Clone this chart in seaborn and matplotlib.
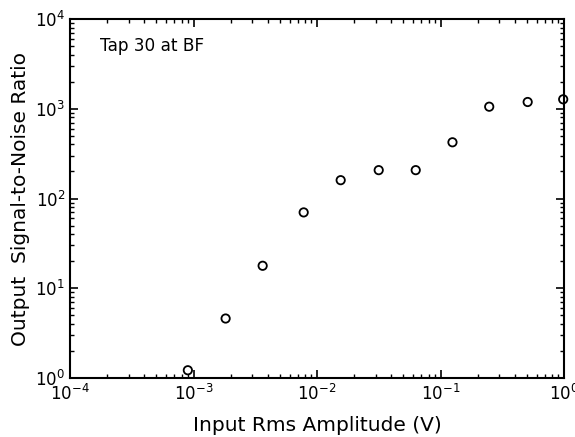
import numpy as np
import pandas as pd
import seaborn as sns
import matplotlib
matplotlib.use("Agg")
import matplotlib.pyplot as plt
from matplotlib.ticker import LogLocator, NullFormatter

# data
amplitude = [0.0009, 0.00182, 0.00363, 0.0078, 0.01555, 0.0316, 0.063, 0.125, 0.248, 0.508, 0.985]
snr = [1.22, 4.6, 17.8, 70, 160, 207, 207, 423, 1054, 1189, 1274]

df = pd.DataFrame({"amp": amplitude, "snr": snr})

sns.set_style("ticks")
plt.rcParams["font.family"] = ["DejaVu Sans"]
plt.rcParams["text.color"] = "black"
plt.rcParams["axes.labelcolor"] = "black"
plt.rcParams["xtick.color"] = "black"
plt.rcParams["ytick.color"] = "black"

fig = plt.figure(figsize=(5.75, 4.37), dpi=100)
ax = fig.add_axes([70 / 575, 1 - 378 / 437, (564 - 70) / 575, (378 - 19) / 437])

sns.scatterplot(data=df, x="amp", y="snr", ax=ax, marker="o", s=36,
                facecolor="none", edgecolor="black", linewidth=1.3,
                clip_on=False, legend=False, zorder=5)

ax.set_xscale("log")
ax.set_yscale("log")
ax.set_xlim(1e-4, 1e0)
ax.set_ylim(1e0, 1e4)

for axis in (ax.xaxis, ax.yaxis):
    axis.set_major_locator(LogLocator(base=10, numticks=100))
    axis.set_minor_locator(LogLocator(base=10, subs=np.arange(2, 10), numticks=100))
    axis.set_minor_formatter(NullFormatter())

ax.tick_params(which="both", direction="in", top=True, right=True, color="black")
ax.tick_params(which="major", length=6, width=1.2, labelsize=12, labelcolor="black")
ax.tick_params(which="minor", length=3, width=1)
ax.tick_params(axis="x", which="major", pad=4)

for sp in ax.spines.values():
    sp.set_linewidth(1.5)
    sp.set_color("black")

ax.set_xlabel("Input Rms Amplitude (V)", fontsize=14.5, labelpad=9)
ax.set_ylabel("Output  Signal-to-Noise Ratio", fontsize=14.5, labelpad=4)

ax.text(0.06, 0.925, "Tap 30 at BF", transform=ax.transAxes, fontsize=12.2,
        ha="left", va="center")

fig.savefig("out.png", dpi=100)
